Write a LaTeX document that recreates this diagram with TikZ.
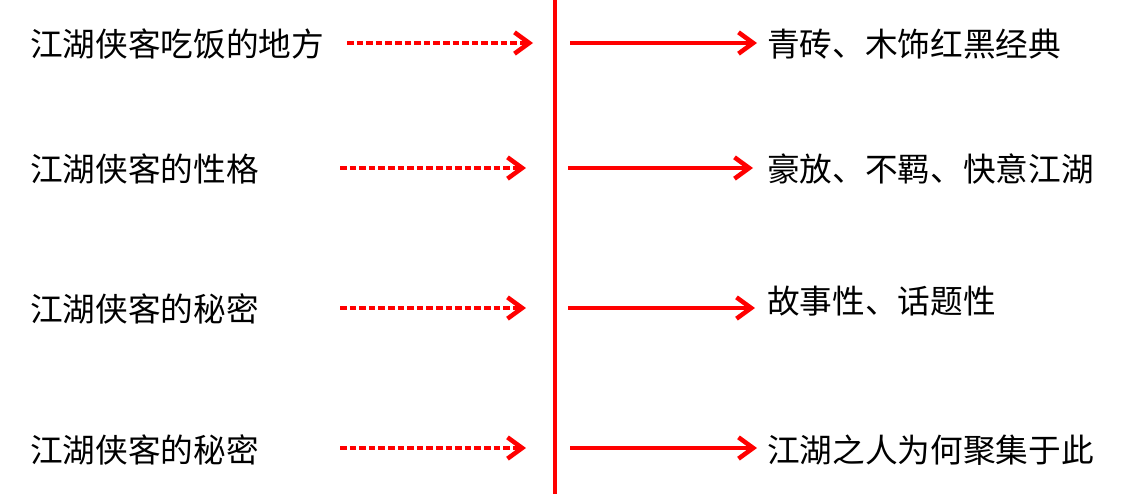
\documentclass[tikz,border=0pt]{standalone}
\usepackage{fontspec}
\setmainfont{Noto Sans CJK SC}
\usetikzlibrary{arrows.meta}

\begin{document}
\begin{tikzpicture}[x=0.75pt,y=-0.75pt,
  txt/.style={anchor=west,inner sep=0pt,font=\fontsize{24.5pt}{29pt}\selectfont},
  dotarrow/.style={red,line width=2.6pt,dash pattern=on 5pt off 2.2pt,-{Straight Barb[length=11pt,width=16pt,line width=3.4pt]}},
  solidarrow/.style={red,line width=3.2pt,-{Straight Barb[length=11pt,width=16pt,line width=3.4pt]}}]
\useasboundingbox (0,0) rectangle (1130,494);
% left texts
\node[txt] (l1) at (30,44) {江湖侠客吃饭的地方};
\node[txt] (l2) at (30,169) {江湖侠客的性格};
\node[txt] (l3) at (30,309) {江湖侠客的秘密};
\node[txt] (l4) at (30,450) {江湖侠客的秘密};
% right texts
\node[txt] (r1) at (767,44) {青砖、木饰红黑经典};
\node[txt] (r2) at (767,169) {豪放、不羁、快意江湖};
\node[txt] (r3) at (767,301) {故事性、话题性};
\node[txt] (r4) at (767,450) {江湖之人为何聚集于此};
% middle line
\coordinate (top) at (555,0);
\coordinate (bottom) at (555,494);
\draw[red,line width=3.2pt] (top)--(bottom);
% dotted arrows
\coordinate (d1) at (347,43);
\coordinate (d2) at (340,168);
\coordinate (d3) at (340,308);
\coordinate (d4) at (340,448);
\draw[dotarrow] (d1)--++(186,0);
\draw[dotarrow] (d2)--++(186,0);
\draw[dotarrow] (d3)--++(186,0);
\draw[dotarrow] (d4)--++(186,0);
% solid arrows
\coordinate (s1) at (570,43);
\coordinate (s2) at (568,168);
\coordinate (s3) at (568,308);
\coordinate (s4) at (570,448);
\draw[solidarrow,shorten >=7.5pt] (s1)--(s1-|r1.west);
\draw[solidarrow,shorten >=10.5pt] (s2)--(s2-|r2.west);
\draw[solidarrow,shorten >=9pt] (s3)--(s3-|r3.west);
\draw[solidarrow,shorten >=7.5pt] (s4)--(s4-|r4.west);
\end{tikzpicture}
\end{document}
